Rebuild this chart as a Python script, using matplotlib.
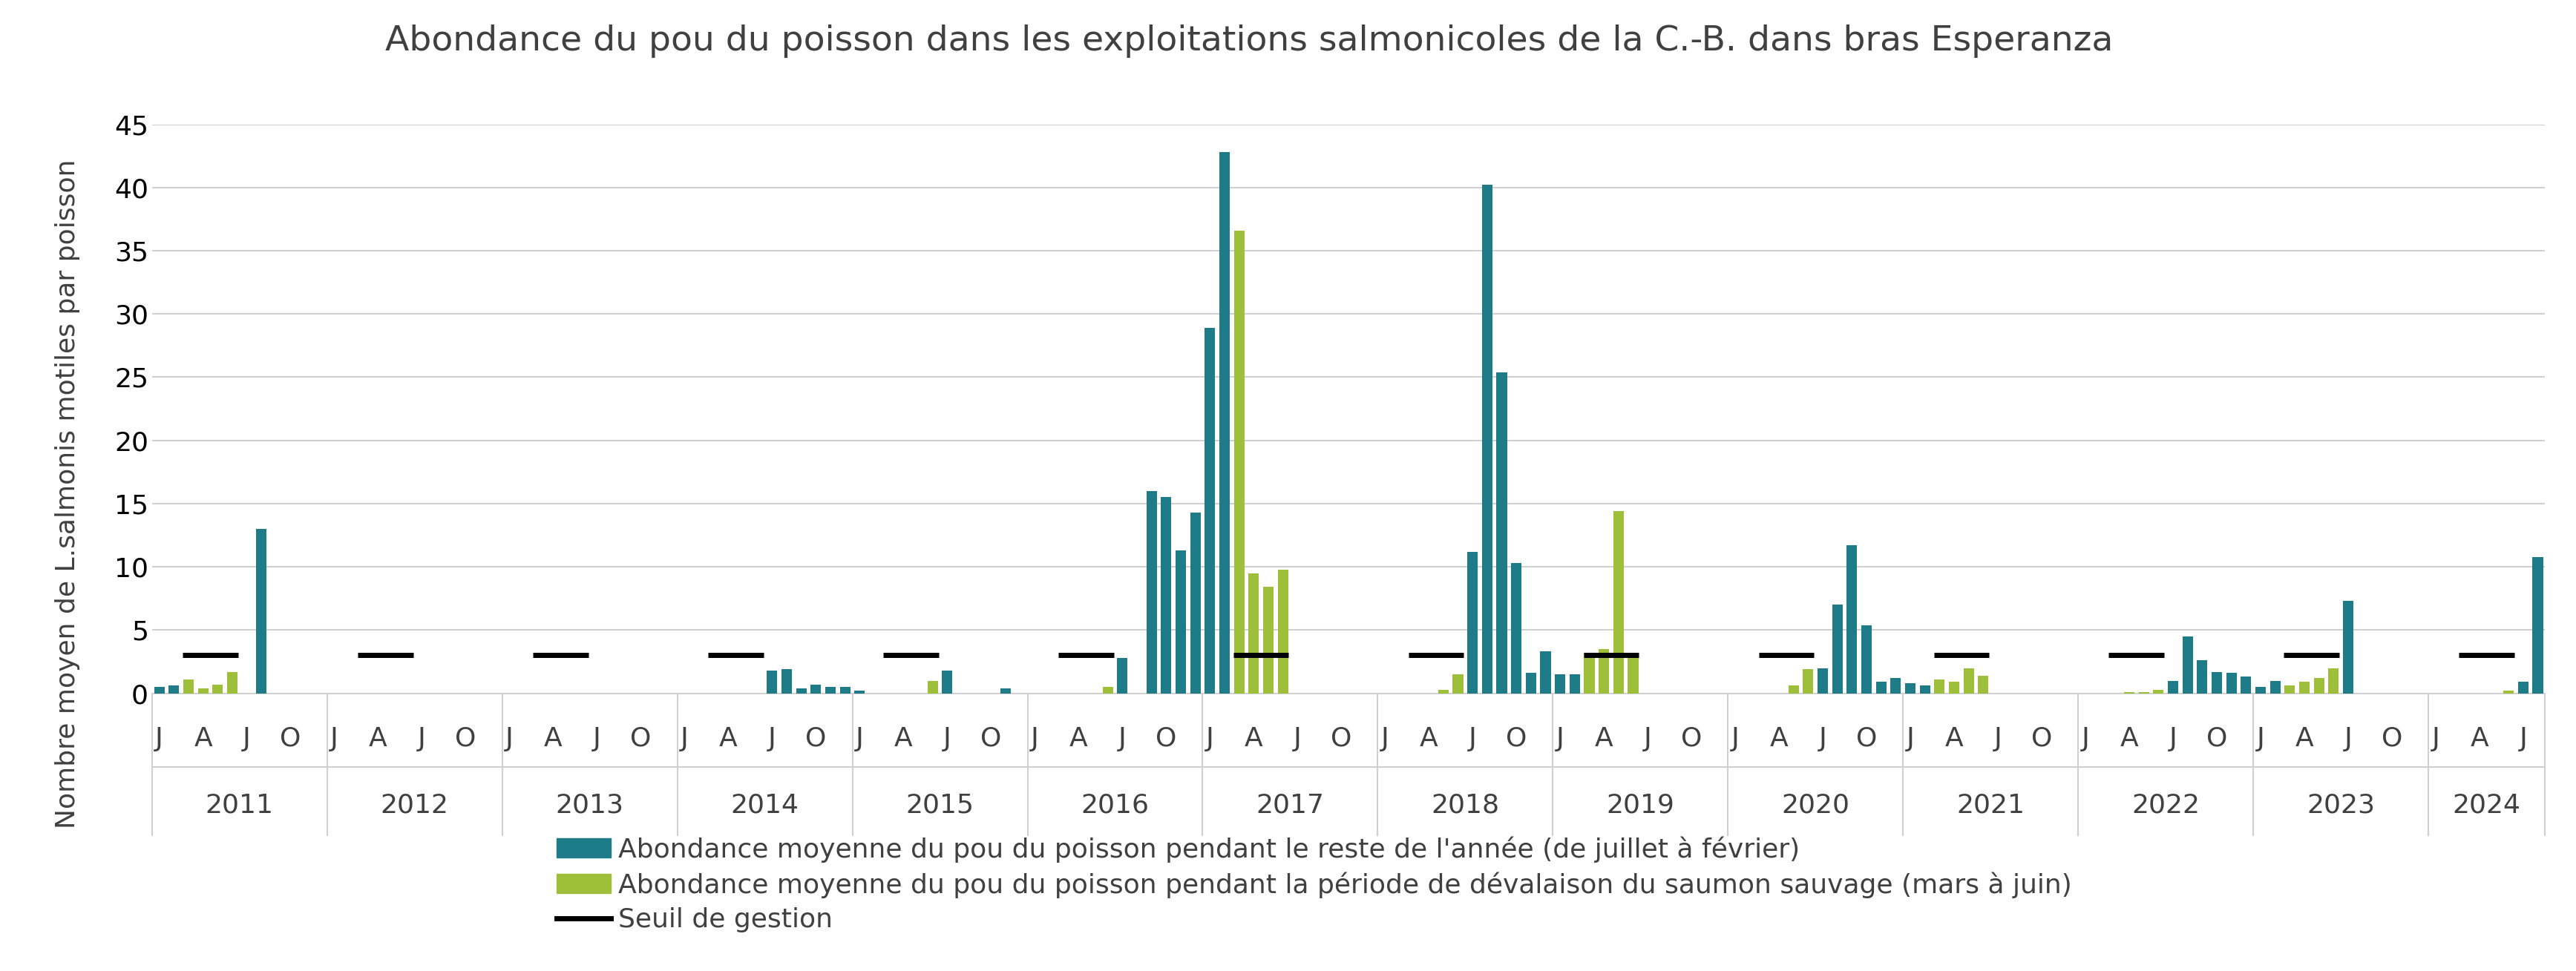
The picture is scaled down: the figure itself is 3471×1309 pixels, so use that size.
import matplotlib.pyplot as plt
import matplotlib.transforms as mtransforms
from matplotlib.lines import Line2D
from matplotlib.patches import Patch

years = list(range(2011, 2025))
month_labels = ["J", "A", "J", "O"]
threshold = 3

# monthly mean abundance, Jan..Dec (2024 ends in August); None = no data
abundance = {
    2011: [0.5, 0.6, 1.1, 0.4, 0.7, 1.7, 0, 13.0, 0, 0, 0, 0],
    2012: [0] * 12,
    2013: [0] * 12,
    2014: [0, 0, 0, 0, 0, 0, 1.8, 1.9, 0.4, 0.7, 0.5, 0.5],
    2015: [0.2, 0, 0, 0, 0, 1.0, 1.8, 0, 0, 0, 0.4, 0],
    2016: [0, 0, 0, 0, 0, 0.5, 2.8, 0, 16.0, 15.5, 11.3, 14.3],
    2017: [28.9, 42.8, 36.6, 9.5, 8.4, 9.8, 0, 0, 0, 0, 0, 0],
    2018: [0, 0, 0, 0, 0.3, 1.5, 11.2, 40.2, 25.4, 10.3, 1.6, 3.3],
    2019: [1.5, 1.5, 3.2, 3.5, 14.4, 2.9, 0, 0, 0, 0, 0, 0],
    2020: [0, 0, 0, 0, 0.6, 1.9, 2.0, 7.0, 11.7, 5.4, 0.9, 1.2],
    2021: [0.8, 0.6, 1.1, 0.9, 2.0, 1.4, 0, 0, 0, 0, 0, 0],
    2022: [0, 0, 0, 0.1, 0.1, 0.3, 1.0, 4.5, 2.6, 1.7, 1.6, 1.3],
    2023: [0.5, 1.0, 0.6, 0.9, 1.2, 2.0, 7.3, 0, 0, 0, 0, 0],
    2024: [0, 0, 0, 0, 0, 0.2, 0.9, 10.8],
}

teal = "#1e7c88"
green = "#9dbf3a"

fig = plt.figure(figsize=(34.71, 13.09), dpi=100)
ax = fig.add_axes([0.059, 0.286, 0.929, 0.586])

xs, vals, cols = [], [], []
pos = 0
year_start = {}
for y in years:
    year_start[y] = pos
    for m, v in enumerate(abundance[y]):
        xs.append(pos)
        vals.append(v)
        cols.append(green if 2 <= m <= 5 else teal)
        pos += 1
n = pos
ax.bar(xs, vals, width=0.72, color=cols, zorder=3)

for y in years:
    s = year_start[y]
    ax.hlines(threshold, s + 1.6, s + 5.4, color="black", lw=5, zorder=4)

ax.set_xlim(-0.5, n - 0.5)
ax.set_ylim(0, 45)
ax.set_yticks(range(0, 46, 5))
ax.tick_params(axis="y", labelsize=26, length=0)
ax.set_xticks([])
ax.grid(axis="y", color="#d0d0d0", lw=1.5, zorder=0)
for sp in ["top", "right", "left"]:
    ax.spines[sp].set_visible(False)
ax.spines["bottom"].set_color("#d0d0d0")
ax.spines["bottom"].set_linewidth(1.5)

tr = mtransforms.blended_transform_factory(ax.transData, ax.transAxes)
for y in years:
    s = year_start[y]
    length = len(abundance[y])
    for k, lab in enumerate(month_labels):
        mi = k * 3
        if mi < length:
            ax.text(s + mi, -0.08, lab, transform=tr, ha="center", va="center", fontsize=26, color="#404040")
    ax.text(s + (length - 1) / 2, -0.197, str(y), transform=tr, ha="center", va="center", fontsize=26, color="#404040")
    ax.plot([s - 0.5, s - 0.5], [0, -0.25], transform=tr, color="#d0d0d0", lw=1.5, clip_on=False)
ax.plot([n - 0.5, n - 0.5], [0, -0.25], transform=tr, color="#d0d0d0", lw=1.5, clip_on=False)
ax.plot([-0.5, n - 0.5], [-0.13, -0.13], transform=tr, color="#d0d0d0", lw=1.5, clip_on=False)

ax.set_ylabel("Nombre moyen de L.salmonis motiles par poisson", fontsize=26, color="#404040", labelpad=20)
ax.yaxis.set_label_coords(-0.03, 0.35)
fig.suptitle("Abondance du pou du poisson dans les exploitations salmonicoles de la C.-B. dans bras Esperanza",
             x=0.485, y=0.975, fontsize=34, color="#404040")

handles = [
    Patch(color=teal, label="Abondance moyenne du pou du poisson pendant le reste de l'année (de juillet à février)"),
    Patch(color=green, label="Abondance moyenne du pou du poisson pendant la période de dévalaison du saumon sauvage (mars à juin)"),
    Line2D([], [], color="black", lw=5, label="Seuil de gestion"),
]
leg = fig.legend(handles=handles, loc="upper left", bbox_to_anchor=(0.212, 0.15), frameon=False,
                 fontsize=26, handlelength=2.0, handletextpad=0.3, labelspacing=0.35, borderaxespad=0)
for t in leg.get_texts():
    t.set_color("#404040")

fig.savefig("out.png", dpi=100)
